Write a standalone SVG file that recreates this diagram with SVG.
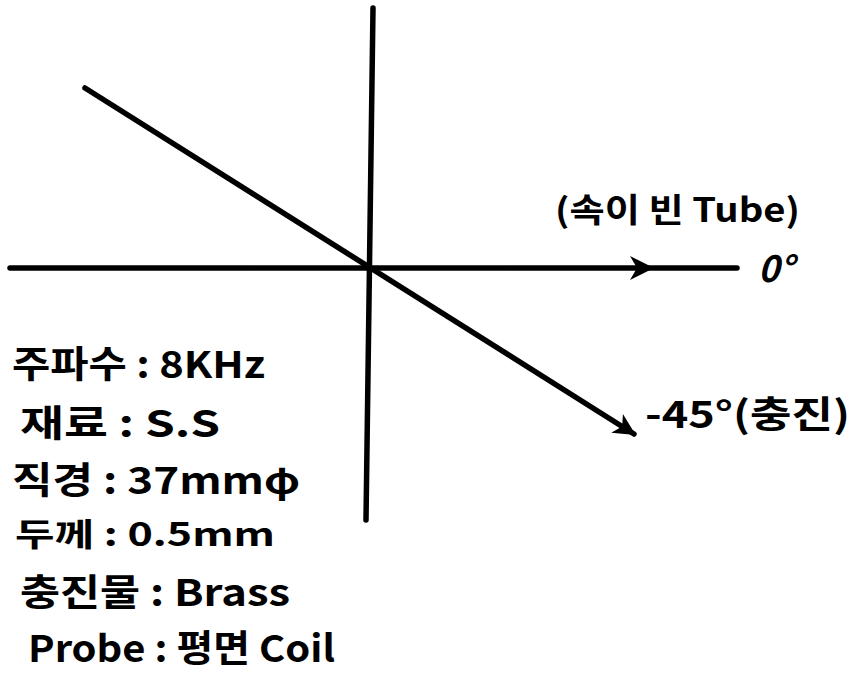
<svg xmlns="http://www.w3.org/2000/svg" width="862" height="679" viewBox="0 0 862 679">
<defs>
<style>
.ax{fill:none;stroke:#000;stroke-width:5.5;stroke-linecap:round;stroke-linejoin:round}
.t{font-family:"Noto Sans CJK KR","Noto Sans",sans-serif;font-weight:bold;fill:#000}
</style>
<marker id="ah" viewBox="0 0 26 26" refX="22" refY="13" markerWidth="26" markerHeight="26" markerUnits="userSpaceOnUse" orient="auto">
<path d="M2,2 L24,13 L2,24 L8,13 Z" fill="#000"/>
</marker>
<marker id="ah2" viewBox="0 0 28 28" refX="22" refY="14" markerWidth="28" markerHeight="28" markerUnits="userSpaceOnUse" orient="auto">
<path d="M2,2 L26,14 L2,26 L9,14 Z" fill="#000"/>
</marker>
</defs>
<rect width="862" height="679" fill="#fff"/>
<g id="connectors">
<path class="ax" d="M373,8 L366,520"/>
<polyline class="ax" points="10,268 650,268 737,268" marker-mid="url(#ah2)"/>
<path class="ax" d="M85,88 L634,434" marker-end="url(#ah)"/>
</g>
<g id="label-tube"><text class="t" x="555" y="222" font-size="33" textLength="245" lengthAdjust="spacingAndGlyphs">(속이 빈 Tube)</text></g>
<g id="label-0"><text class="t" x="758" y="282" font-size="36" font-style="italic">0°</text></g>
<g id="label-45"><text class="t" x="645" y="428" font-size="37" textLength="205" lengthAdjust="spacingAndGlyphs">-45°(충진)</text></g>
<g id="specs">
<text class="t" x="12" y="378" font-size="37" textLength="253" lengthAdjust="spacingAndGlyphs">주파수 : 8KHz</text>
<text class="t" x="20" y="437" font-size="37" textLength="200" lengthAdjust="spacingAndGlyphs">재료 : S.S</text>
<text class="t" x="12" y="494" font-size="37" textLength="288" lengthAdjust="spacingAndGlyphs">직경 : 37mmφ</text>
<text class="t" x="15" y="546" font-size="32" textLength="260" lengthAdjust="spacingAndGlyphs">두께 : 0.5mm</text>
<text class="t" x="20" y="606" font-size="37" textLength="270" lengthAdjust="spacingAndGlyphs">충진물 : Brass</text>
<text class="t" x="28" y="662" font-size="37" textLength="307" lengthAdjust="spacingAndGlyphs">Probe : 평면 Coil</text>
</g>
</svg>
